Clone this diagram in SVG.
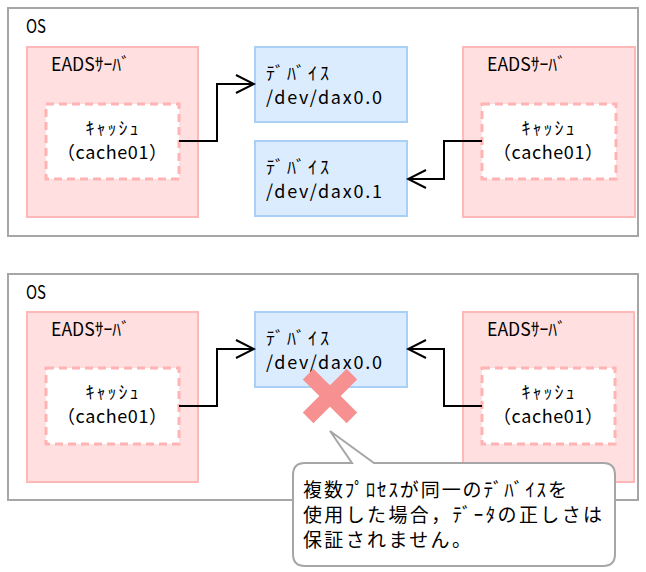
<svg xmlns="http://www.w3.org/2000/svg" width="646" height="572" viewBox="0 0 646 572">
<defs>
<style>
.os{fill:#fff;stroke:#a6a6a6;stroke-width:2}
.srv{fill:#ffdfdf;stroke:#ffb8b8;stroke-width:2}
.cache{fill:#fff;stroke:#ffb3b3;stroke-width:3;stroke-dasharray:8 5}
.dev{fill:#dbecff;stroke:#a9d1f7;stroke-width:2}
text{font-family:"Noto Sans CJK JP","Noto Sans",sans-serif;fill:#000;font-size:18px}
.c{text-anchor:middle}
.call{font-size:19px}
.conn{fill:none;stroke:#000;stroke-width:2}
.xm{fill:#f79191}
.bubble{fill:#fff;stroke:#a6a6a6;stroke-width:2}
</style>
<marker id="arr" viewBox="-20 -11 22 22" refX="0" refY="0" markerWidth="22" markerHeight="22" markerUnits="userSpaceOnUse" orient="auto">
<path d="M-18,-9 L0,0 L-18,9" fill="none" stroke="#000" stroke-width="2"/>
</marker>
</defs>

<g id="os1">
<rect class="os" x="8" y="8" width="630" height="228"/>
<text x="26" y="33" textLength="20" lengthAdjust="spacingAndGlyphs">OS</text>
</g>
<g id="srv1a">
<rect class="srv" x="27" y="47" width="171" height="170"/>
<text x="51" y="71" textLength="79" lengthAdjust="spacingAndGlyphs">EADSｻｰﾊﾞ</text>
</g>
<g id="cache1a">
<rect class="cache" x="46" y="104" width="133" height="75"/>
<text class="c" x="112" y="135" textLength="53">ｷｬｯｼｭ</text>
<text class="c" x="112" y="159" textLength="110">（cache01）</text>
</g>
<g id="dev1a">
<rect class="dev" x="255" y="47" width="152" height="75"/>
<text x="266" y="80" textLength="63">ﾃﾞﾊﾞｲｽ</text>
<text x="266" y="104" textLength="116">/dev/dax0.0</text>
</g>
<g id="dev1b">
<rect class="dev" x="255" y="141" width="152" height="75"/>
<text x="266" y="174" textLength="63">ﾃﾞﾊﾞｲｽ</text>
<text x="266" y="198" textLength="116">/dev/dax0.1</text>
</g>
<g id="srv1b">
<rect class="srv" x="463" y="47" width="172" height="170"/>
<text x="487" y="71" textLength="79" lengthAdjust="spacingAndGlyphs">EADSｻｰﾊﾞ</text>
</g>
<g id="cache1b">
<rect class="cache" x="482" y="104" width="134" height="75"/>
<text class="c" x="548" y="135" textLength="53">ｷｬｯｼｭ</text>
<text class="c" x="548" y="159" textLength="110">（cache01）</text>
</g>

<g id="os2">
<rect class="os" x="8" y="274" width="630" height="226"/>
<text x="26" y="299" textLength="20" lengthAdjust="spacingAndGlyphs">OS</text>
</g>
<g id="srv2a">
<rect class="srv" x="27" y="312" width="171" height="170"/>
<text x="51" y="336" textLength="79" lengthAdjust="spacingAndGlyphs">EADSｻｰﾊﾞ</text>
</g>
<g id="cache2a">
<rect class="cache" x="46" y="368" width="133" height="76"/>
<text class="c" x="112" y="399" textLength="53">ｷｬｯｼｭ</text>
<text class="c" x="112" y="423" textLength="110">（cache01）</text>
</g>
<g id="dev2">
<rect class="dev" x="255" y="312" width="152" height="75"/>
<text x="266" y="345" textLength="63">ﾃﾞﾊﾞｲｽ</text>
<text x="266" y="369" textLength="116">/dev/dax0.0</text>
</g>
<g id="srv2b">
<rect class="srv" x="463" y="312" width="171" height="170"/>
<text x="487" y="336" textLength="79" lengthAdjust="spacingAndGlyphs">EADSｻｰﾊﾞ</text>
</g>
<g id="cache2b">
<rect class="cache" x="482" y="368" width="133" height="76"/>
<text class="c" x="548" y="399" textLength="53">ｷｬｯｼｭ</text>
<text class="c" x="548" y="423" textLength="110">（cache01）</text>
</g>

<g id="connectors">
<path class="conn" d="M179,141 H217 V84 H254" marker-end="url(#arr)"/>
<path class="conn" d="M482,141 H444 V179 H408" marker-end="url(#arr)"/>
<path class="conn" d="M179,406 H217 V349 H254" marker-end="url(#arr)"/>
<path class="conn" d="M482,406 H444 V349 H408" marker-end="url(#arr)"/>
</g>

<g id="xmark" transform="translate(330,396) rotate(45)">
<rect class="xm" x="-31" y="-7.5" width="62" height="15"/>
<rect class="xm" x="-7.5" y="-31" width="15" height="62"/>
</g>

<g id="callout">
<path class="bubble" d="M305,463 H352 L330,431 L374,463 H603 Q615,463 615,475 V554 Q615,566 603,566 H305 Q293,566 293,554 V475 Q293,463 305,463 Z"/>
<text class="call" x="303" y="497" textLength="264">複数ﾌﾟﾛｾｽが同一のﾃﾞﾊﾞｲｽを</text>
<text class="call" x="303" y="522" textLength="299">使用した場合，ﾃﾞｰﾀの正しさは</text>
<text class="call" x="303" y="547" textLength="168">保証されません。</text>
</g>
</svg>
